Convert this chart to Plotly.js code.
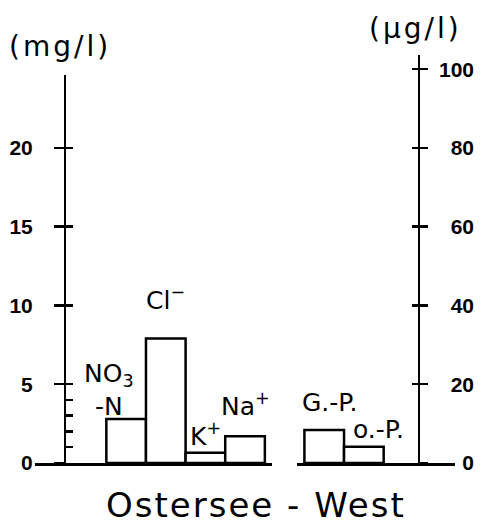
<!DOCTYPE html>
<html><head><meta charset="utf-8">
<script src="https://cdn.plot.ly/plotly-3.0.1.min.js"></script>
<style>
html,body{margin:0;padding:0;background:#fff;}
#chart{width:481px;height:524px;}
.gtitle{letter-spacing:2px;}
.annotation[data-index="0"] text,.annotation[data-index="1"] text{letter-spacing:3px;}
</style></head><body><div id="chart"></div>
<script>
// ---- data ----
const ionCategories = ["NO3-N", "Cl-", "K+", "Na+"];
const ionValues = [2.8, 7.9, 0.65, 1.7];          // mg/l (left axis)
const ionLabels = ["NO<sub>3</sub><br>-N", "Cl<sup>−</sup>", "K<sup>+</sup>", "Na<sup>+</sup>"];
const pCategories = ["G.-P.", "o.-P."];
const pValues = [8.4, 4.1];                        // µg/l (right axis)
const pLabels = ["G.-P.", "o.-P."];
const leftTickVals = [0, 5, 10, 15, 20];
const leftTickText = ["0", "5", "10", "15", "20"];
const leftMinorVals = [1, 2, 3, 4];
const rightTickVals = [0, 20, 40, 60, 80, 100];
const rightTickText = ["0", "20", "40", "60", "80", "100"];
const leftUnit = "(mg/l)";
const rightUnit = "(µg/l)";
const chartTitle = "Ostersee - West";

// ---- style ----
const ionShift = [[-17, -4], [0, 22], [0, 0], [0, 13]];
const pShift = [[5, 11], [15, 1]];

const black = '#000';
const labelFont = {family: 'DejaVu Sans', size: 25, color: black};
const tickFont = {family: 'Liberation Sans', size: 21, color: black, weight: 'bold'};

const traces = [
  {type: 'bar', x: ionCategories, y: ionValues, xaxis: 'x', yaxis: 'y', width: 1,
   marker: {color: '#fff', line: {color: black, width: 2.5}}, hoverinfo: 'skip', showlegend: false},
  {type: 'bar', x: pCategories, y: pValues, xaxis: 'x2', yaxis: 'y2', width: 1,
   marker: {color: '#fff', line: {color: black, width: 2.5}}, hoverinfo: 'skip', showlegend: false},
  // empty carriers so the extra tick / label axes get drawn
  {type: 'scatter', x: [], y: [], xaxis: 'x', yaxis: 'y3', hoverinfo: 'skip', showlegend: false},
  {type: 'scatter', x: [], y: [], xaxis: 'x2', yaxis: 'y4', hoverinfo: 'skip', showlegend: false},
  {type: 'scatter', x: [], y: [], xaxis: 'x2', yaxis: 'y5', hoverinfo: 'skip', showlegend: false}
];

const annotations = [
  {text: leftUnit, xref: 'paper', yref: 'paper', x: 0.0567, y: 1.02, xanchor: 'center', yanchor: 'middle',
   showarrow: false, font: {family: 'DejaVu Sans', size: 28, color: black}},
  {text: rightUnit, xref: 'paper', yref: 'paper', x: 0.8617, y: 1.064, xanchor: 'center', yanchor: 'middle',
   showarrow: false, font: {family: 'DejaVu Sans', size: 28, color: black}}
];
ionCategories.forEach((c, i) => annotations.push({
  text: ionLabels[i], x: c, y: ionValues[i], xref: 'x', yref: 'y', xanchor: 'center', yanchor: 'bottom',
  xshift: ionShift[i][0], yshift: ionShift[i][1], showarrow: false, font: labelFont
}));
pCategories.forEach((c, i) => annotations.push({
  text: pLabels[i], x: c, y: pValues[i], xref: 'x2', yref: 'y2', xanchor: 'center', yanchor: 'bottom',
  xshift: pShift[i][0], yshift: pShift[i][1], showarrow: false, font: labelFont
}));

const common = {showgrid: false, zeroline: false, fixedrange: true};
const layout = {
  width: 481, height: 524,
  margin: {l: 35, r: 5, t: 55, b: 61},
  paper_bgcolor: '#fff', plot_bgcolor: 'rgba(0,0,0,0)',
  barmode: 'overlay', showlegend: false,
  title: {text: chartTitle, font: {family: 'DejaVu Sans', size: 34, color: black},
          xref: 'container', yref: 'container', x: 0.532, y: 0.036, xanchor: 'center', yanchor: 'middle'},
  xaxis: Object.assign({domain: [0, 0.5374], range: [-2.3, 3.68], type: 'category', anchor: 'y',
    showline: true, linewidth: 3, linecolor: black, ticks: '', showticklabels: false}, common),
  xaxis2: Object.assign({domain: [0.5941, 0.9524], range: [-0.687, 3.3], type: 'category', anchor: 'y2',
    showline: true, linewidth: 3, linecolor: black, ticks: '', showticklabels: false}, common),
  yaxis: Object.assign({domain: [0, 0.951], range: [0, 24.63], anchor: 'free', position: 0.068,
    showline: true, linewidth: 2, linecolor: black, ticks: 'outside', ticklen: 10, tickwidth: 2.5, tickcolor: black,
    tickmode: 'array', tickvals: leftTickVals, ticktext: leftTickText, tickfont: tickFont, ticklabelstandoff: 17}, common),
  yaxis2: Object.assign({domain: [0, 1], range: [0, 103.6], anchor: 'free', position: 0.8707, side: 'right',
    showline: true, linewidth: 2, linecolor: black, ticks: 'outside', ticklen: 8, tickwidth: 2.5, tickcolor: black,
    tickmode: 'array', tickvals: rightTickVals, showticklabels: false}, common),
  yaxis3: Object.assign({overlaying: 'y', range: [0, 24.63], anchor: 'free', position: 0.068,
    showline: false, ticks: 'inside', ticklen: 7, tickwidth: 2.5, tickcolor: black,
    tickmode: 'array', tickvals: leftMinorVals.concat(leftTickVals.slice(1)), showticklabels: false}, common),
  yaxis4: Object.assign({overlaying: 'y2', range: [0, 103.6], anchor: 'free', position: 0.8707, side: 'right',
    showline: false, ticks: 'inside', ticklen: 7, tickwidth: 2.5, tickcolor: black,
    tickmode: 'array', tickvals: rightTickVals.slice(1), showticklabels: false}, common),
  // right-hand tick labels, right-aligned like the reference
  yaxis5: Object.assign({overlaying: 'y2', range: [0, 103.6], anchor: 'free', position: 0.9955, side: 'left',
    showline: false, ticks: '', tickmode: 'array', tickvals: rightTickVals, ticktext: rightTickText,
    tickfont: tickFont}, common),
  annotations: annotations
};

Plotly.newPlot('chart', traces, layout, {displayModeBar: false, staticPlot: true});
</script></body></html>
